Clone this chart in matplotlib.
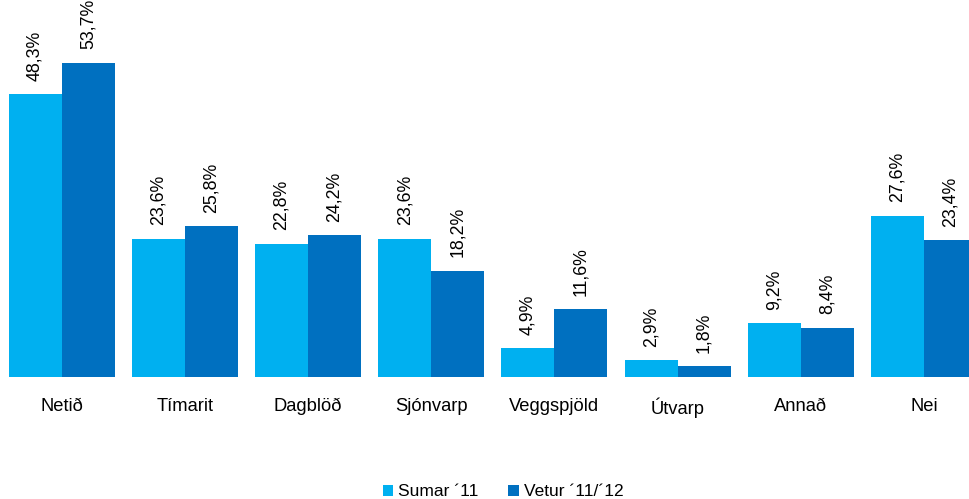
import matplotlib
matplotlib.use("Agg")
import matplotlib.pyplot as plt
import numpy as np

plt.rcParams['font.family'] = ['Liberation Sans', 'DejaVu Sans']

categories = ['Netið', 'Tímarit', 'Dagblöð', 'Sjónvarp', 'Veggspjöld', 'Útvarp', 'Annað', 'Nei']
sumar = [48.3, 23.6, 22.8, 23.6, 4.9, 2.9, 9.2, 27.6]
vetur = [53.7, 25.8, 24.2, 18.2, 11.6, 1.8, 8.4, 23.4]
series_names = ['Sumar ´11', 'Vetur ´11/´12']
colors = ['#00B0F0', '#0070C0']

W, H = 970, 499
fig = plt.figure(figsize=(W / 100, H / 100), dpi=100)
# axes deliberately wider than the figure so the last group is clipped like the original
ax = fig.add_axes([0.0 / W, (H - 377) / H, 985.6 / W, 351 / H])

x = np.arange(len(categories))
bw = 0.43
for i, (vals, name) in enumerate(zip([sumar, vetur], series_names)):
    pos = x + (i - 0.5) * bw
    ax.bar(pos, vals, bw, color=colors[i], label=name)
    for p, v in zip(pos, vals):
        ax.text(p, v + 2.3, f"{v:.1f}%".replace('.', ','), rotation=90,
                ha='center', va='bottom', fontsize=12.8)

ax.set_xlim(-0.5, 7.5)
ax.set_ylim(0, 60)
ax.set_xticks(x)
ax.set_xticklabels(categories, fontsize=13.2)
ax.tick_params(axis='x', length=0, pad=15)
ax.set_yticks([])
for s in ax.spines.values():
    s.set_visible(False)

fig.legend(loc='lower center', bbox_to_anchor=(503 / W, -0.032), ncol=2, frameon=False,
           fontsize=12.5, handlelength=0.6, handleheight=0.6, handletextpad=0.3,
           columnspacing=1.7)

fig.savefig('out.png', dpi=100)
